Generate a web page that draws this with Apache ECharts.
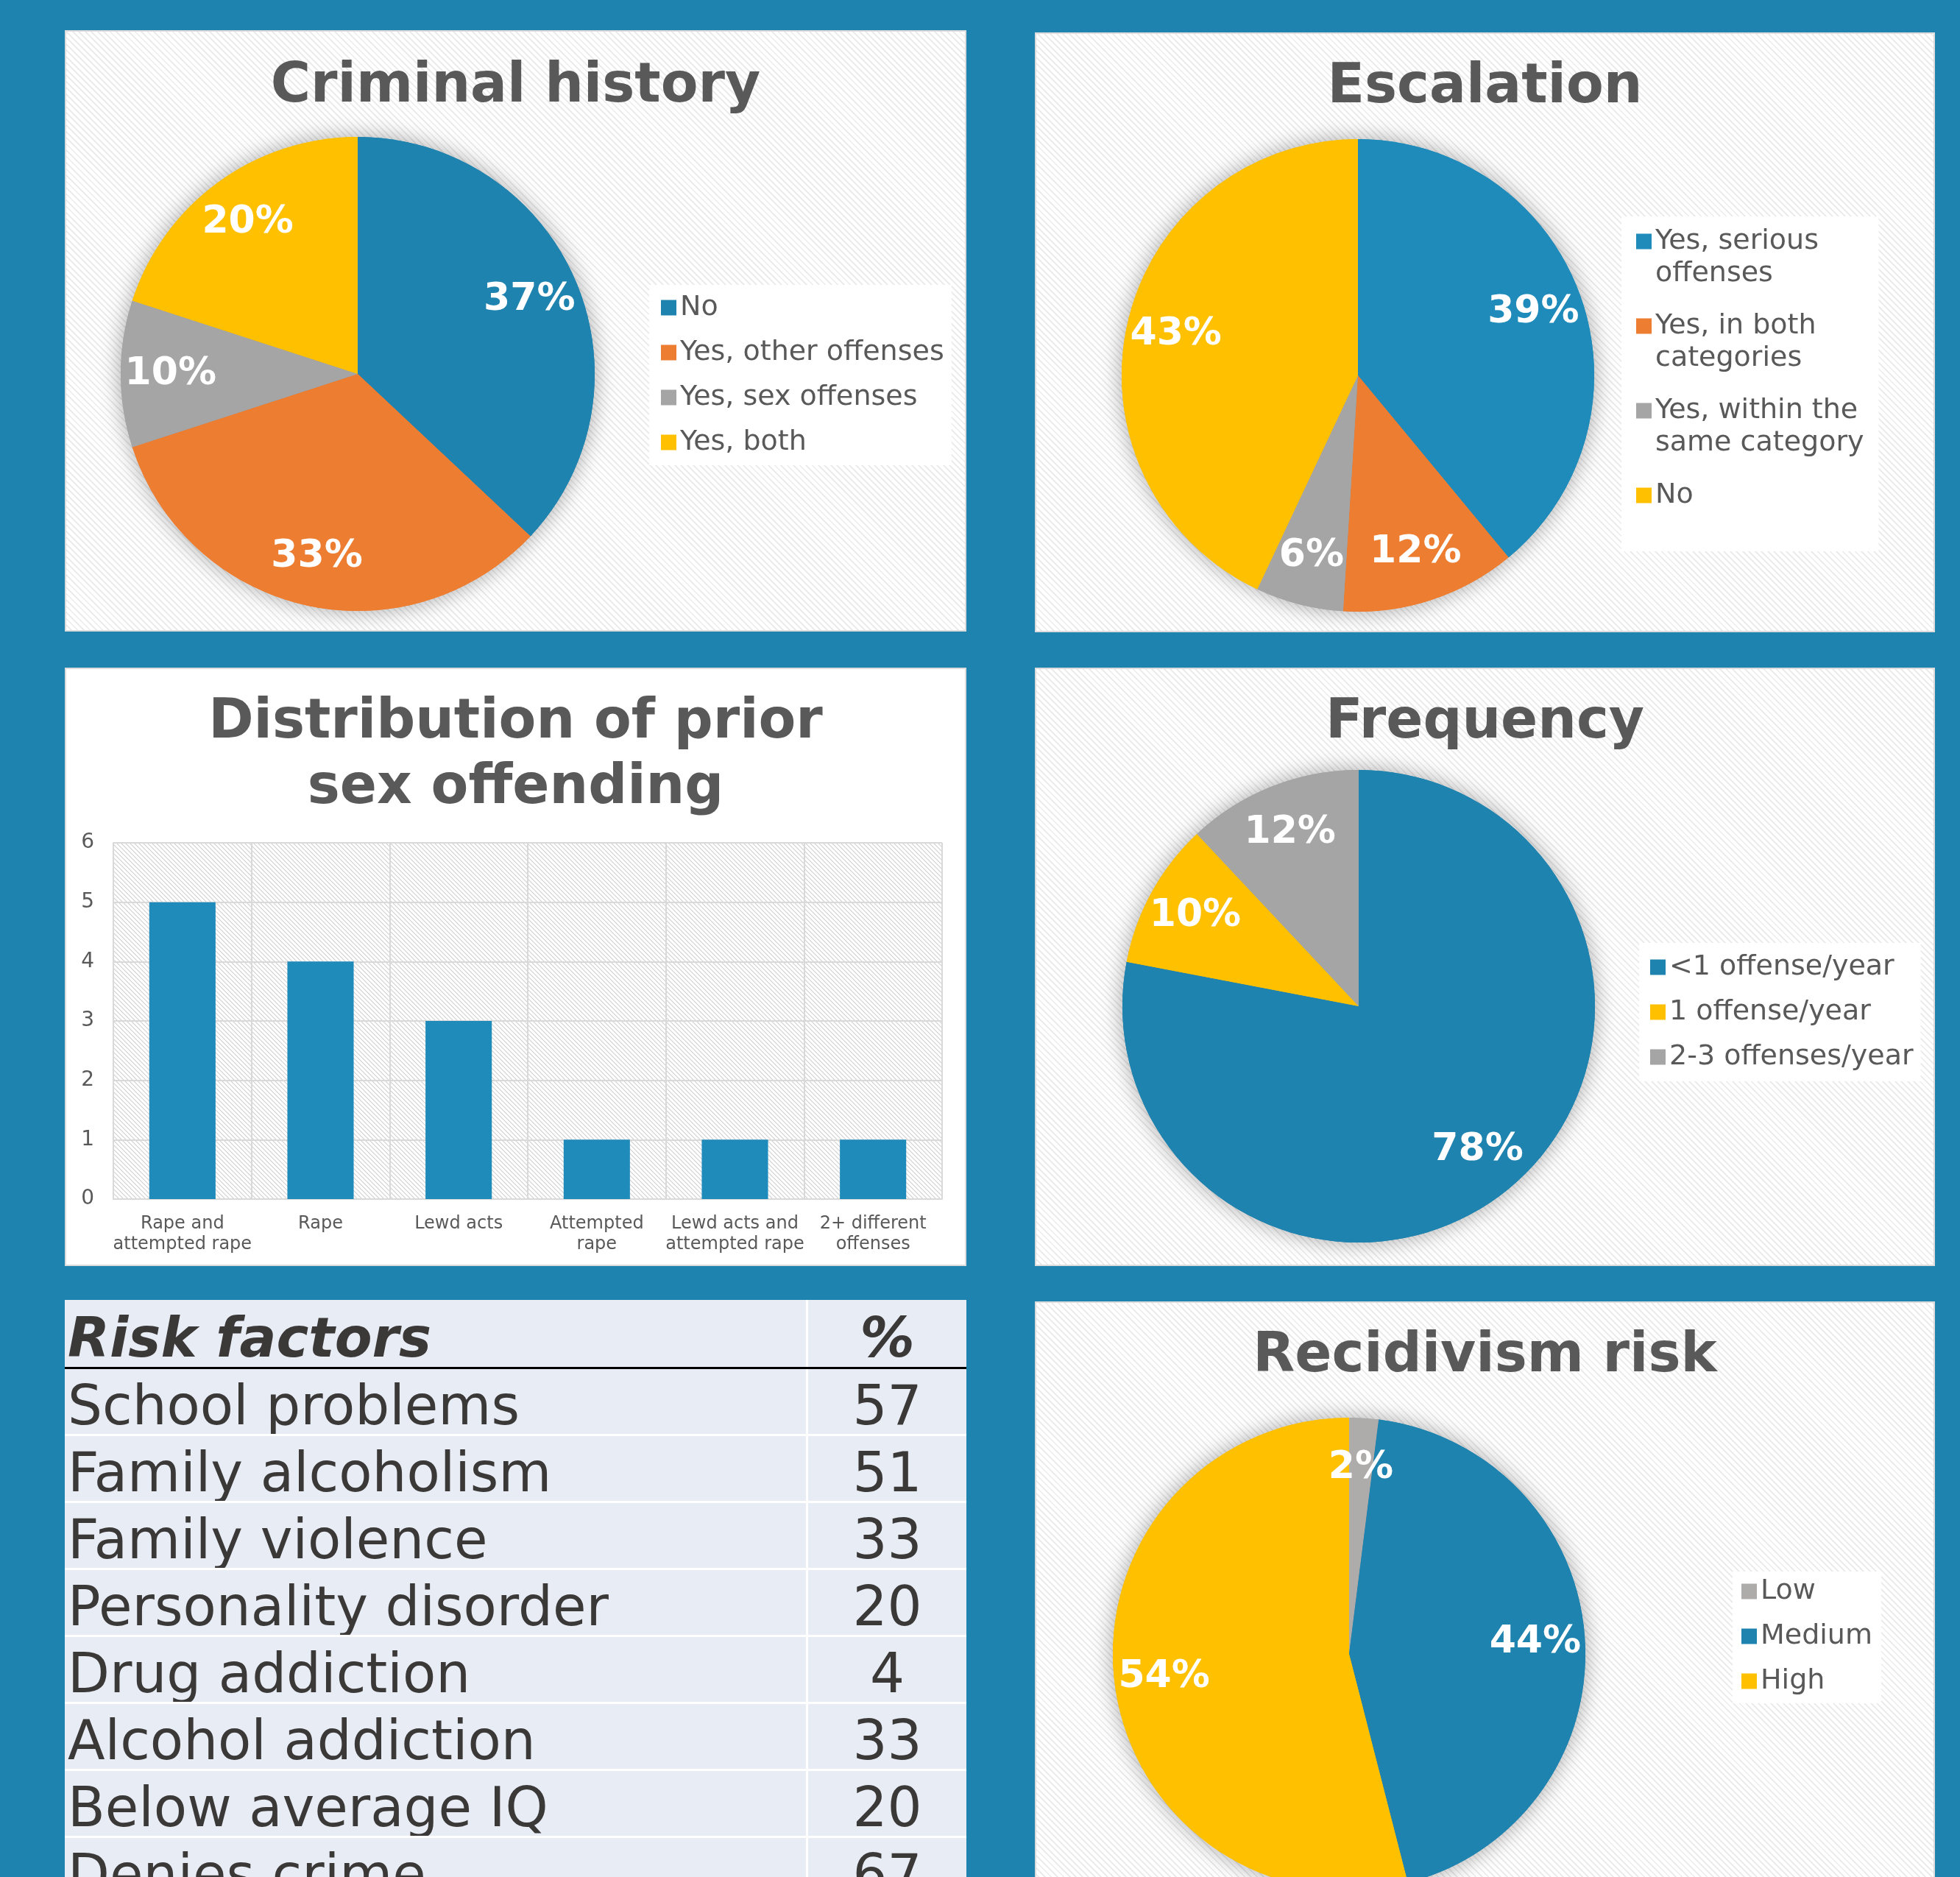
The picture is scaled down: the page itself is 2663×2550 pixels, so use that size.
<!DOCTYPE html>
<html>
<head>
<meta charset="utf-8">
<title>Offender profile</title>
<script src="https://cdn.jsdelivr.net/npm/echarts@6/dist/echarts.min.js"></script>
<style>
  html, body { margin: 0; padding: 0; width: 2663px; height: 2550px; overflow: hidden; background: #1F83AF; font-family: 'DejaVu Sans', sans-serif; }
  .panel { position: absolute; box-sizing: border-box; border: 2px solid #dcdcdc;
    background: repeating-linear-gradient(45deg, #ffffff 0 4px, #ececec 4px 6px); }
  .plain { background: #ffffff; }
  .chart { position: absolute; left: 0; top: 0; width: 100%; height: 100%; }
  #crimPanel { left: 88px; top: 41px; width: 1225px; height: 817px; }
  #escPanel { left: 1406px; top: 44px; width: 1223px; height: 815px; }
  #barPanel { left: 88px; top: 907px; width: 1225px; height: 813px; }
  #freqPanel { left: 1406px; top: 907px; width: 1223px; height: 813px; }
  #recidPanel { left: 1406px; top: 1768px; width: 1223px; height: 830px; }
  #risk { position: absolute; left: 88px; top: 1766px; width: 1225px; }
  #risk table { width: 100%; border-collapse: collapse; table-layout: fixed; background: #E8ECF5; color: #3b3838; }
  #risk td, #risk th { padding: 0 0 0 4px; height: 88px; font-size: 74px; line-height: 1; white-space: nowrap; overflow: hidden;
    border-bottom: 3px solid #ffffff; font-weight: normal; text-align: left; }
  #risk th { height: 91px; font-weight: bold; font-style: italic; border-bottom: 3px solid #000; }
  #risk span { position: relative; top: 5px; }
  #risk .num { text-align: center; padding: 0; border-left: 3px solid #ffffff; width: 215px; }
</style>
</head>
<body>
<div id="crimPanel" class="panel"><div id="crim" class="chart"></div></div>
<div id="escPanel" class="panel"><div id="esc" class="chart"></div></div>
<div id="barPanel" class="panel plain"><div id="bar" class="chart"></div></div>
<div id="freqPanel" class="panel"><div id="freq" class="chart"></div></div>
<div id="risk"></div>
<div id="recidPanel" class="panel"><div id="recid" class="chart"></div></div>

<script>
// criminal history
const historyNames = ['No', 'Yes, other offenses', 'Yes, sex offenses', 'Yes, both']
const historyValues = [37, 33, 10, 20]
// escalation
const escalationNames = ['Yes, serious\noffenses', 'Yes, in both\ncategories', 'Yes, within the\nsame category', 'No']
const escalationValues = [39, 12, 6, 43]
// prior sex offending
const offenseTypes = ['Rape and\nattempted rape', 'Rape', 'Lewd acts', 'Attempted\nrape', 'Lewd acts and\nattempted rape', '2+ different\noffenses']
const offenseCounts = [5, 4, 3, 1, 1, 1]
// frequency
const frequencyNames = ['<1 offense/year', '1 offense/year', '2-3 offenses/year']
const frequencyValues = [78, 10, 12]
// recidivism risk
const riskNames = ['Low', 'Medium', 'High']
const riskValues = [2, 44, 54]
// risk factors table
const factorNames = ['School problems', 'Family alcoholism', 'Family violence', 'Personality disorder',
  'Drug addiction', 'Alcohol addiction', 'Below average IQ', 'Denies crime']
const factorPct = [57, 51, 33, 20, 4, 33, 20, 67]

const BLUE = '#1F83AF'
const BLUE2 = '#1F8BBB'
const ORANGE = '#ED7D31'
const GRAY = '#A5A5A5'
const YELLOW = '#FFC000'
const TEXT = '#595959'
const FONT = 'DejaVu Sans'

function hatch(bg, line, step) {
  const c = document.createElement('canvas')
  c.width = step
  c.height = step
  const g = c.getContext('2d')
  g.fillStyle = bg
  g.fillRect(0, 0, step, step)
  g.strokeStyle = line
  g.lineWidth = 1.2
  g.beginPath()
  for (let k = -1; k <= 1; k++) {
    g.moveTo(0, k * step)
    g.lineTo(step, step + k * step)
  }
  g.stroke()
  return { image: c, repeat: 'repeat' }
}

function titleOf(text, top) {
  return {
    text: text,
    left: 'center',
    top: top,
    textStyle: { fontFamily: FONT, fontWeight: 'bold', fontSize: 74, lineHeight: 89, color: TEXT }
  }
}

function pieChart(el, cfg) {
  const chart = echarts.init(document.getElementById(el))
  const data = cfg.names.map((n, i) => ({ name: n, value: cfg.values[i] }))
  const legend = {
    orient: 'vertical',
    left: cfg.legend.left,
    top: cfg.legend.top,
    padding: cfg.legend.padding,
    itemGap: cfg.legend.gap,
    backgroundColor: '#ffffff',
    icon: 'rect',
    itemWidth: 21,
    itemHeight: 21,
    selectedMode: false,
    data: cfg.names,
    textStyle: { fontFamily: FONT, fontSize: 38, lineHeight: 44, color: TEXT }
  }
  if (cfg.twoLine) {
    // two-line entries: keep the marker beside the first line
    legend.itemHeight = 88
    legend.symbolKeepAspect = false
    legend.icon = 'path://M0,0H0.01V0.01H0ZM0,11.5H21V32.5H0ZM0,87.99H0.01V88H0Z'
    legend.formatter = n => (n.indexOf('\n') >= 0 ? n : n + '\n ')
  }
  chart.setOption({
    animation: false,
    color: cfg.colors,
    title: titleOf(cfg.title, cfg.titleTop),
    legend: legend,
    series: [{
      type: 'pie',
      z: 3,
      center: cfg.center,
      radius: cfg.radius,
      startAngle: 90,
      clockwise: true,
      silent: true,
      data: data,
      label: { show: false },
      labelLine: { show: false }
    }, {
      // transparent ring that only carries the percentage labels
      type: 'pie',
      z: 4,
      center: cfg.center,
      radius: [cfg.radius * 0.56, cfg.radius],
      startAngle: 90,
      silent: true,
      avoidLabelOverlap: false,
      data: data,
      itemStyle: { color: 'rgba(0,0,0,0)' },
      label: {
        show: true,
        position: 'inside',
        formatter: '{c}%',
        fontFamily: FONT,
        fontWeight: 'bold',
        fontSize: 52,
        color: '#ffffff'
      },
      labelLine: { show: false }
    }, {
      // soft shadow behind the pie
      type: 'pie',
      z: 1,
      center: cfg.center,
      radius: cfg.radius,
      startAngle: 90,
      silent: true,
      data: data,
      itemStyle: { shadowBlur: 30, shadowColor: 'rgba(0,0,0,0.35)' },
      label: { show: false },
      labelLine: { show: false }
    }]
  })
  return chart
}

pieChart('crim', {
  title: 'Criminal history', titleTop: 26,
  names: historyNames, values: historyValues,
  colors: [BLUE, ORANGE, GRAY, YELLOW],
  center: [396, 465], radius: 322,
  legend: { left: 792, top: 344, padding: [9, 10, 9, 16], gap: 17 }
})

pieChart('esc', {
  title: 'Escalation', titleTop: 24,
  names: escalationNames, values: escalationValues,
  colors: [BLUE2, ORANGE, GRAY, YELLOW],
  center: [437, 464], radius: 321,
  twoLine: true,
  legend: { left: 795, top: 248, padding: [12, 20, 10, 20], gap: 27 }
})

pieChart('freq', {
  title: 'Frequency', titleTop: 24,
  names: frequencyNames, values: frequencyValues,
  colors: [BLUE, YELLOW, GRAY],
  center: [438, 458], radius: 321,
  legend: { left: 819, top: 372, padding: [11, 10, 11, 15], gap: 17 }
})

pieChart('recid', {
  title: 'Recidivism risk', titleTop: 24,
  names: riskNames, values: riskValues,
  colors: ['#AEABAB', BLUE, YELLOW],
  center: [425, 477], radius: 321,
  legend: { left: 946, top: 365, padding: [5, 12, 8, 12], gap: 17 }
})

// bar chart
const bar = echarts.init(document.getElementById('bar'))
bar.setOption({
  animation: false,
  title: titleOf('Distribution of prior\nsex offending', 24),
  grid: {
    left: 64, right: 31, top: 236, bottom: 89,
    show: true,
    borderWidth: 0,
    backgroundColor: hatch('#ffffff', '#d0d0d0', 6)
  },
  xAxis: {
    type: 'category',
    data: offenseTypes,
    axisTick: { show: false },
    axisLine: { lineStyle: { color: '#d9d9d9', width: 2 } },
    splitLine: { show: true, lineStyle: { color: '#d9d9d9', width: 2 } },
    axisLabel: { interval: 0, color: TEXT, fontFamily: FONT, fontSize: 24, lineHeight: 28, margin: 20 }
  },
  yAxis: {
    type: 'value',
    min: 0,
    max: 6,
    interval: 1,
    axisLine: { show: true, lineStyle: { color: '#d9d9d9', width: 2 } },
    axisLabel: { color: TEXT, fontFamily: FONT, fontSize: 28, margin: 26 },
    splitLine: { lineStyle: { color: '#d9d9d9', width: 2 } }
  },
  series: [{
    type: 'bar',
    data: offenseCounts,
    barWidth: '48%',
    itemStyle: { color: BLUE2 }
  }]
})

// risk factors table
let html = '<table><tr><th><span>Risk factors</span></th><th class="num"><span>%</span></th></tr>'
for (let i = 0; i < factorNames.length; i++) {
  html += '<tr><td><span>' + factorNames[i] + '</span></td><td class="num"><span>' + factorPct[i] + '</span></td></tr>'
}
html += '</table>'
document.getElementById('risk').innerHTML = html
</script>
</body>
</html>
